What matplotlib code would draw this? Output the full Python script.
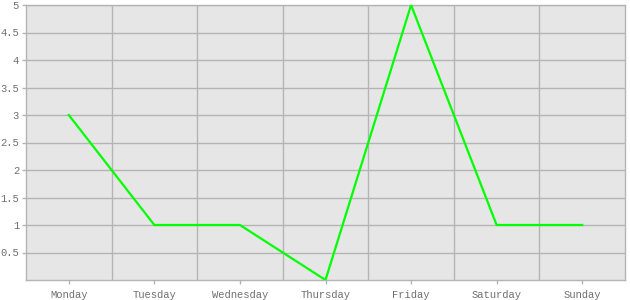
import matplotlib
matplotlib.use('Agg')
import matplotlib.pyplot as plt

days = ['Monday', 'Tuesday', 'Wednesday', 'Thursday', 'Friday', 'Saturday', 'Sunday']
values = [3, 1, 1, 0, 5, 1, 1]
yticks = [0.5, 1, 1.5, 2, 2.5, 3, 3.5, 4, 4.5, 5]
ylabels = ['0.5', '1', '1.5', '2', '2.5', '3', '3.5', '4', '4.5', '5']

grid_col = '#b4b4b4'
txt_col = '#707070'

fig = plt.figure(figsize=(6.3, 3.0), dpi=100)
ax = fig.add_axes([26 / 630, 20 / 300, 599 / 630, 275 / 300])
ax.set_facecolor('#e6e6e6')

x = list(range(len(days)))
ax.plot(x, values, color='#00ff00', lw=1.6, zorder=3)

ax.set_xlim(-0.5, len(days) - 0.5)
ax.set_ylim(0, 5)

ax.set_xticks(x)
ax.set_xticklabels(days)
ax.set_xticks([i + 0.5 for i in range(len(days) - 1)], minor=True)
ax.set_yticks(yticks)
ax.set_yticklabels(ylabels)

ax.grid(True, which='minor', axis='x', color=grid_col, lw=1)
ax.grid(True, which='major', axis='y', color=grid_col, lw=1)
ax.set_axisbelow(True)

for s in ax.spines.values():
    s.set_color(grid_col)
    s.set_linewidth(1)

ax.tick_params(axis='both', which='major', length=3, width=1, color=grid_col,
               labelcolor=txt_col, labelsize=7.6, pad=2)
ax.tick_params(axis='x', which='minor', length=0)
for lab in ax.get_xticklabels() + ax.get_yticklabels():
    lab.set_fontfamily('Liberation Mono')
ax.tick_params(axis='x', pad=4)

fig.savefig('out.png', dpi=100)
